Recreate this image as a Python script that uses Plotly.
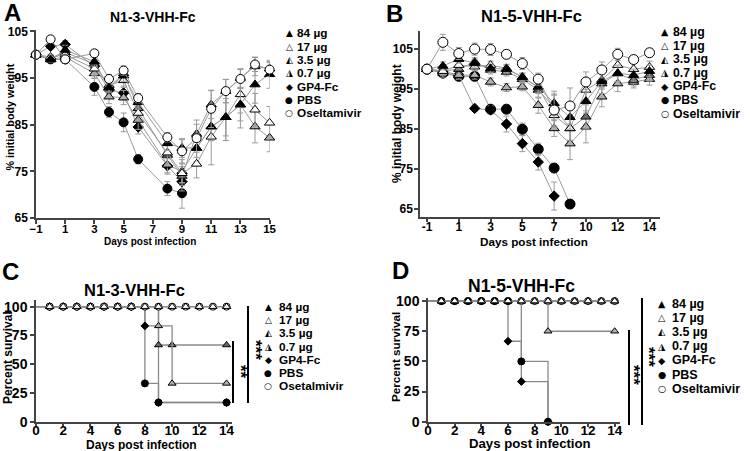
import plotly.graph_objects as go

# ---------------- DATA ----------------
# Panel A: N1-3-VHH-Fc body weight (% initial)
A_DAYS = [-1, 0, 1, 3, 4, 5, 6, 8, 9, 10, 11, 12, 13, 14, 15]
A_84 = [100, 99, 101, 98.5, 93, 95.5, 89.8, 81, 80, 80, 84.6, 86.6, 89.3, 93.6, 95.8]
A_84_ERR = [0, 0.5, 1, 1, 1, 1.2, 1.5, 1.5, 2, 2, 3, 5, 5, 4, 3]
A_17 = [100, 99.5, 100, 97, 93.5, 94.5, 87.5, 79, 74.6, 76.6, 82.4, 86.6, 91.5, 88.2, 85.4]
A_17_ERR = [0, 0.5, 1, 1.5, 1, 1.5, 1.5, 2, 2, 3, 6, 5, 4, 3.5, 3.5]
A_35 = [100, 99, 100.5, 98, 93, 96, 88.5, 78.5, 74, 83, 89.3, 92.2, 95, 97.5, 97]
A_35_ERR = [0, 0.5, 1, 1, 1, 1, 1.5, 2, 2, 3, 3, 2.5, 2, 2, 1.5]
A_07 = [100, 99, 99.5, 96, 91, 90.8, 86, 76.4, 75, 80, 84.6, 86.6, 89.3, 84.6, 82.2]
A_07_ERR = [0, 0.5, 1, 1, 1.5, 1.5, 2, 2, 2.5, 3, 3, 4, 3.5, 3.5, 3]
A_GP4_DAYS = [-1, 0, 1, 3, 4, 5, 6, 8, 9]
A_GP4 = [100, 101.8, 102.2, 97.5, 92.4, 91.8, 84.5, 76.2, 72.8]
A_GP4_ERR = [0, 0.5, 0.8, 1, 1, 1.5, 1.5, 1.5, 2]
A_PBS_DAYS = [-1, 0, 1, 3, 4, 5, 6, 8, 9]
A_PBS = [100, 99, 99, 93.1, 87.7, 85.5, 77.6, 71.3, 70.3]
A_PBS_ERR = [0, 0.5, 0.5, 1.8, 1.2, 2, 1, 1.5, 3.2]
A_OSE = [100, 103.3, 99, 100.3, 94.8, 96.6, 90.7, 82.3, 79.3, 82.1, 88.4, 92.2, 94.8, 97.9, 96.8]
A_OSE_ERR = [0, 0.8, 0.5, 0.8, 1, 1, 1, 1, 2.5, 3, 4, 2.5, 2, 1.5, 1.5]
A_XTICKS = [-1, 1, 3, 5, 7, 9, 11, 13, 15]
WEIGHT_YTICKS = [65, 75, 85, 95, 105]

# Panel B: N1-5-VHH-Fc body weight (% initial); day 9 not measured
B_DAYS = ["-1", "0", "1", "2", "3", "4", "5", "6", "7", "8", "10", "11", "12", "13", "14"]
B_XTICKS = ["-1", "1", "3", "5", "7", "10", "12", "14"]
B_84 = [100, 100.8, 102.5, 101.5, 100.2, 100, 98, 95.6, 91.5, 88, 92, 97, 99, 98.5, 99.5]
B_84_ERR = [0, 1, 1, 1, 1, 1, 1, 1.5, 3, 3, 3, 2, 2, 1.5, 1.5]
B_17 = [100, 99.5, 101, 100.6, 101, 100.2, 98, 95.4, 88.5, 85.2, 94.8, 97.3, 101, 100, 100.5]
B_17_ERR = [0, 1, 1, 1, 1, 1, 1, 1.5, 3, 3, 3, 2, 2, 1.5, 1.5]
B_35 = [100, 99.5, 100, 101.8, 99.8, 99.3, 97.5, 94.8, 90.5, 85.2, 88.1, 96.4, 98.9, 97.3, 98.5]
B_35_ERR = [0, 1, 1, 1, 1, 1, 1, 2, 3, 3, 3, 2.5, 2, 1.5, 1.5]
B_07 = [100, 99, 98.5, 98.5, 96.8, 95.4, 95.6, 91, 85.2, 81.4, 85.6, 93.1, 96.4, 96.8, 97.5]
B_07_ERR = [0, 1, 1, 1, 1, 1, 1, 2, 2, 4, 4, 2.5, 2, 1.5, 1.5]
B_GP4_DAYS = ["-1", "0", "1", "2", "3", "4", "5", "6", "7"]
B_GP4 = [100, 99.5, 98.5, 90.2, 89.8, 86.3, 81.4, 76.8, 68.3]
B_GP4_ERR = [0, 0.5, 1, 0.7, 1, 2, 2, 2, 3.5]
B_PBS_DAYS = ["-1", "0", "1", "2", "3", "4", "5", "6", "7", "8"]
B_PBS = [100, 99, 98.2, 98.2, 90, 90, 85, 80, 75.3, 66.3]
B_PBS_ERR = [0, 0.5, 1, 0.8, 1, 1, 1.5, 1.5, 1, 1]
B_OSE = [100, 106.7, 103.9, 105, 104.9, 103.7, 101.4, 97.5, 89.8, 90.8, 96.8, 99.8, 103.7, 102.4, 104.1]
B_OSE_ERR = [0, 2, 1.5, 1.5, 1.5, 1, 1.5, 1.5, 4, 4.5, 2.5, 2, 1.5, 1, 1]

# Panel C: N1-3-VHH-Fc survival (%)
SURV_DAYS = [0, 1, 2, 3, 4, 5, 6, 7, 8, 9, 10, 11, 12, 13, 14]
C_84 = [100, 100, 100, 100, 100, 100, 100, 100, 100, 100, 100, 100, 100, 100, 100]
C_17 = [100, 100, 100, 100, 100, 100, 100, 100, 100, 100, 100, 100, 100, 100, 100]
C_35_DAYS = [0, 1, 2, 3, 4, 5, 6, 7, 8, 9, 10, 14]
C_35 = [100, 100, 100, 100, 100, 100, 100, 100, 100, 66.7, 66.7, 66.7]
C_07_DAYS = [0, 1, 2, 3, 4, 5, 6, 7, 8, 9, 10, 14]
C_07 = [100, 100, 100, 100, 100, 100, 100, 100, 100, 83.3, 33.3, 33.3]
C_GP4_DAYS = [0, 1, 2, 3, 4, 5, 6, 7, 8, 9, 14]
C_GP4 = [100, 100, 100, 100, 100, 100, 100, 100, 83.3, 16.7, 16.7]
C_PBS_DAYS = [0, 1, 2, 3, 4, 5, 6, 7, 8, 9, 14]
C_PBS = [100, 100, 100, 100, 100, 100, 100, 100, 33.3, 16.7, 16.7]
C_OSE = [100, 100, 100, 100, 100, 100, 100, 100, 100, 100, 100, 100, 100, 100, 100]

# Panel D: N1-5-VHH-Fc survival (%)
D_84 = [100, 100, 100, 100, 100, 100, 100, 100, 100, 100, 100, 100, 100, 100, 100]
D_17 = [100, 100, 100, 100, 100, 100, 100, 100, 100, 100, 100, 100, 100, 100, 100]
D_35 = [100, 100, 100, 100, 100, 100, 100, 100, 100, 100, 100, 100, 100, 100, 100]
D_07_DAYS = [0, 1, 2, 3, 4, 5, 6, 7, 8, 9, 14]
D_07 = [100, 100, 100, 100, 100, 100, 100, 100, 100, 75, 75]
D_GP4_DAYS = [0, 1, 2, 3, 4, 5, 6, 7, 9]
D_GP4 = [100, 100, 100, 100, 100, 100, 66.7, 33.3, 0]
D_PBS_DAYS = [0, 1, 2, 3, 4, 5, 6, 7, 9]
D_PBS = [100, 100, 100, 100, 100, 100, 100, 50, 0]
D_OSE = [100, 100, 100, 100, 100, 100, 100, 100, 100, 100, 100, 100, 100, 100, 100]
SURV_XTICKS = [0, 2, 4, 6, 8, 10, 12, 14]
SURV_YTICKS = [0, 25, 50, 75, 100]

LEGEND_LABELS = ["84 µg", "17 µg", "3.5 µg", "0.7 µg", "GP4-Fc", "PBS", "Oseltamivir"]
LEGEND_LABELS_C = ["84 µg", "17 µg", "3.5 µg", "0.7 µg", "GP4-Fc", "PBS", "Osetalmivir"]
LEGEND_GLYPHS = ["▲", "△", "◭", "◮", "◆", "●", "○"]

# ---------------- STYLE ----------------
W, H = 750, 451
FONT = "Liberation Sans, Arial, sans-serif"
GRAY = "#9a9a9a"
AXC = "#444444"


def px(x):
    return x / W


def py(y):
    return 1 - y / H


STY = {
    "84": dict(symbol="triangle-up", color="black"),
    "17": dict(symbol="triangle-up", color="white"),
    "35": dict(symbol="triangle-up", color="#6a6a6a"),
    "07": dict(symbol="triangle-up", color="#b0b0b0"),
    "GP4": dict(symbol="diamond", color="black"),
    "PBS": dict(symbol="circle", color="black"),
    "OSE": dict(symbol="circle", color="white"),
}

fig = go.Figure()


def weight(x, y, err, key, xa, ya, size):
    s = STY[key]
    sz = size - 1 if key == "GP4" else size
    fig.add_trace(go.Scatter(
        x=x, y=y, mode="lines+markers", xaxis=xa, yaxis=ya, showlegend=False,
        cliponaxis=False,
        line=dict(color=GRAY, width=1),
        marker=dict(symbol=s["symbol"], size=sz, color=s["color"],
                    line=dict(color="black", width=1)),
        error_y=dict(type="data", array=err, color=GRAY, thickness=1, width=3),
    ))


def surv(x, y, key, xa, ya, size=7):
    s = STY[key]
    op = [0] + [1] * (len(x) - 1)
    sz = size - 1 if key == "GP4" else size
    fig.add_trace(go.Scatter(
        x=x, y=y, mode="lines+markers", xaxis=xa, yaxis=ya, showlegend=False,
        cliponaxis=False,
        line=dict(color="#8a8a8a", width=1.3, shape="hv"),
        marker=dict(symbol=s["symbol"], size=sz, color=s["color"], opacity=op,
                    line=dict(color="black", width=1)),
    ))


# Panel A
weight(A_PBS_DAYS, A_PBS, A_PBS_ERR, "PBS", "x", "y", 9)
weight(A_GP4_DAYS, A_GP4, A_GP4_ERR, "GP4", "x", "y", 9)
weight(A_DAYS, A_07, A_07_ERR, "07", "x", "y", 9)
weight(A_DAYS, A_35, A_35_ERR, "35", "x", "y", 9)
weight(A_DAYS, A_17, A_17_ERR, "17", "x", "y", 9)
weight(A_DAYS, A_84, A_84_ERR, "84", "x", "y", 9)
weight(A_DAYS, A_OSE, A_OSE_ERR, "OSE", "x", "y", 9)

# Panel B
weight(B_PBS_DAYS, B_PBS, B_PBS_ERR, "PBS", "x2", "y2", 10)
weight(B_GP4_DAYS, B_GP4, B_GP4_ERR, "GP4", "x2", "y2", 9)
weight(B_DAYS, B_07, B_07_ERR, "07", "x2", "y2", 9)
weight(B_DAYS, B_35, B_35_ERR, "35", "x2", "y2", 9)
weight(B_DAYS, B_17, B_17_ERR, "17", "x2", "y2", 9)
weight(B_DAYS, B_84, B_84_ERR, "84", "x2", "y2", 9)
weight(B_DAYS, B_OSE, B_OSE_ERR, "OSE", "x2", "y2", 10)

# Panel C
surv(C_PBS_DAYS, C_PBS, "PBS", "x3", "y3")
surv(C_GP4_DAYS, C_GP4, "GP4", "x3", "y3")
surv(SURV_DAYS, C_84, "84", "x3", "y3")
surv(C_35_DAYS, C_35, "35", "x3", "y3")
surv(C_07_DAYS, C_07, "07", "x3", "y3")
surv(SURV_DAYS, C_OSE, "OSE", "x3", "y3")
surv(SURV_DAYS, C_17, "17", "x3", "y3")

# Panel D
surv(SURV_DAYS, D_OSE, "OSE", "x4", "y4")
surv(SURV_DAYS, D_84, "84", "x4", "y4")
surv(SURV_DAYS, D_35, "35", "x4", "y4")
surv(D_07_DAYS, D_07, "07", "x4", "y4")
surv(D_GP4_DAYS, D_GP4, "GP4", "x4", "y4")
surv(D_PBS_DAYS, D_PBS, "PBS", "x4", "y4")
surv(SURV_DAYS, D_17, "17", "x4", "y4")


def ax(dom, size, **kw):
    d = dict(domain=dom, showline=True, linecolor=AXC, linewidth=1.5, ticks="outside",
             ticklen=4, tickwidth=1.5, tickcolor=AXC, showgrid=False, zeroline=False,
             automargin=False,
             tickfont=dict(family=FONT, size=size, color="black", weight="bold"))
    d.update(kw)
    return d


layout = dict(
    width=W, height=H, margin=dict(l=0, r=0, t=0, b=0, autoexpand=False),
    paper_bgcolor="white", plot_bgcolor="white", showlegend=False,
    xaxis=ax([px(36), px(269.6)], 11.5, anchor="y", range=[-1, 15],
             tickmode="array", tickvals=A_XTICKS, ticklabelstandoff=-5),
    yaxis=ax([py(218), py(29.5)], 12, anchor="x", range=[65, 105.4],
             tickmode="array", tickvals=WEIGHT_YTICKS),
    xaxis2=ax([px(420), px(660)], 12, anchor="y2", type="category",
              categoryorder="array", categoryarray=B_DAYS, range=[-0.44, 14.66],
              tickmode="array", tickvals=B_XTICKS, ticklabelstandoff=-6),
    yaxis2=ax([py(216.7), py(30.7)], 12, anchor="x2", range=[63.15, 109.6],
              tickmode="array", tickvals=WEIGHT_YTICKS, ticklabelstandoff=-1),
    xaxis3=ax([px(36), px(232)], 13.5, anchor="y3", range=[0, 14.4],
              tickmode="array", tickvals=SURV_XTICKS, ticklabelstandoff=-9),
    yaxis3=ax([py(421.7), py(300)], 14, anchor="x3", range=[0, 105.8],
              tickmode="array", tickvals=SURV_YTICKS),
    xaxis4=ax([px(428), px(620)], 13.5, anchor="y4", range=[0, 14.4],
              tickmode="array", tickvals=SURV_XTICKS, ticklabelstandoff=-9),
    yaxis4=ax([py(421.7), py(298.3)], 14, anchor="x4", range=[0, 102.3],
              tickmode="array", tickvals=SURV_YTICKS),
)
fig.update_layout(**layout)

ann = []


def txt(x, y, s, size, angle=0, xanchor="center", family=FONT, bold=True):
    ann.append(dict(x=px(x), y=py(y), xref="paper", yref="paper", showarrow=False,
                    text=("<b>%s</b>" % s) if bold else s, textangle=angle,
                    xanchor=xanchor, yanchor="middle",
                    font=dict(family=family, size=size, color="black")))


# panel letters
txt(12, 13, "A", 24)
txt(395, 14, "B", 24)
txt(10, 271, "C", 24)
txt(400, 270, "D", 24)
# titles
txt(153, 17, "N1-3-VHH-Fc", 14)
txt(531, 16, "N1-5-VHH-Fc", 16.5)
txt(134.5, 290, "N1-3-VHH-Fc", 16.5)
txt(521.5, 286, "N1-5-VHH-Fc", 17.5)
# axis titles
txt(9.5, 117, "% initial body weight", 10.8, angle=-90)
txt(397, 124, "% initial body weight", 12, angle=-90)
txt(150, 241, "Days post infection", 10)
txt(534, 241, "Days post infection", 11.7)
txt(8, 358, "Percent survival", 12, angle=-90)
txt(141, 444.5, "Days post infection", 12)
txt(395, 357, "Percent survival", 11.7, angle=-90)
txt(529.5, 443.5, "Days post infection", 13.2)


def legend(gx, tx, y0, dy, labels, size, gsize):
    for i, (g, lab) in enumerate(zip(LEGEND_GLYPHS, labels)):
        txt(gx, y0 + i * dy, g, gsize, family="DejaVu Sans", bold=False)
        txt(tx, y0 + i * dy, lab, size, xanchor="left")


legend(289, 295, 33.5, 13.3, LEGEND_LABELS, 11.8, 9)
legend(665, 671, 32, 13.6, LEGEND_LABELS, 12.3, 9.5)
legend(268, 277, 307, 13.2, LEGEND_LABELS_C, 11.8, 9)
legend(662, 670, 303.5, 14.2, LEGEND_LABELS, 12.5, 9.5)

# significance asterisks
txt(241, 372, "**", 17, angle=90)
txt(256, 350, "***", 17, angle=90)
txt(634, 375, "***", 17, angle=90)
txt(649, 357, "***", 17, angle=90)
fig.update_layout(annotations=ann)

# significance bars
for x0, y0, y1 in [(233, 341, 403), (248, 306, 403), (629, 330, 425), (642, 298, 425)]:
    fig.add_shape(type="line", xref="paper", yref="paper",
                  x0=px(x0), x1=px(x0), y0=py(y0), y1=py(y1),
                  line=dict(color="black", width=2))

fig.write_html(
    "out.html",
    config={"displayModeBar": False},
    post_script="document.body.style.margin='0px';document.body.style.padding='0px';",
)
